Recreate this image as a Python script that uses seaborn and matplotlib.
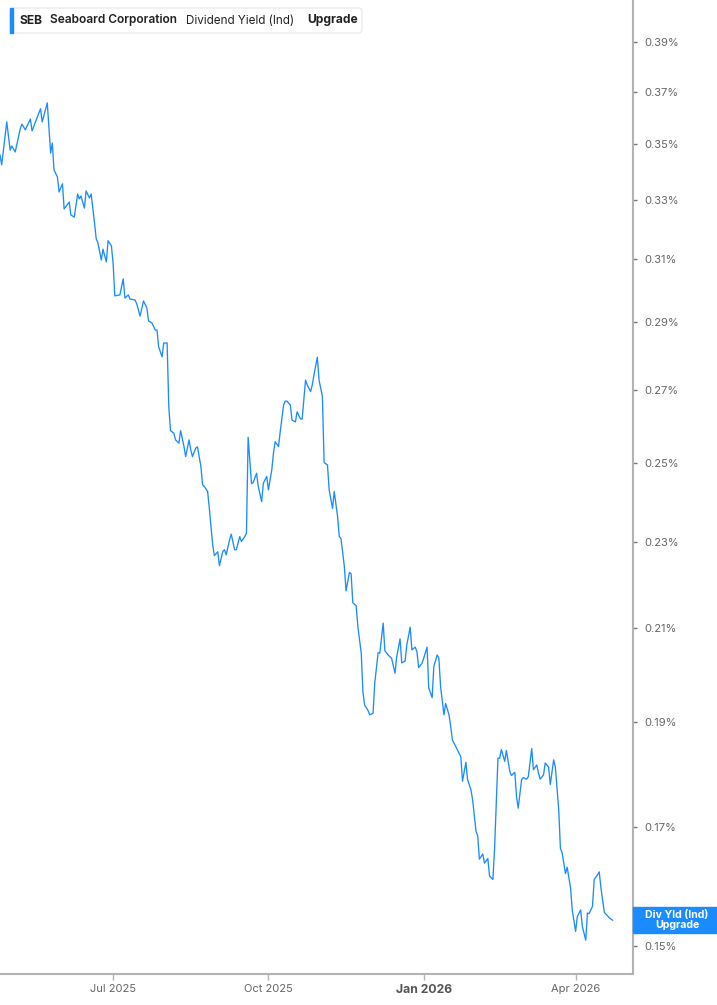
import matplotlib
matplotlib.use("Agg")
import matplotlib.pyplot as plt
from matplotlib.patches import FancyBboxPatch, Rectangle
from matplotlib.ticker import FixedLocator, FuncFormatter, NullLocator
import pandas as pd
import seaborn as sns

# Dividend yield (Ind), %
dates = [
    "2025-04-25", "2025-04-26", "2025-04-29", "2025-05-01", "2025-05-02", "2025-05-04",
    "2025-05-07", "2025-05-08", "2025-05-10", "2025-05-13", "2025-05-14", "2025-05-16",
    "2025-05-19", "2025-05-20", "2025-05-23", "2025-05-25", "2025-05-26", "2025-05-27",
    "2025-05-29", "2025-05-30", "2025-06-01", "2025-06-02", "2025-06-05", "2025-06-06",
    "2025-06-08", "2025-06-10", "2025-06-11", "2025-06-12", "2025-06-14", "2025-06-15",
    "2025-06-17", "2025-06-18", "2025-06-20", "2025-06-21", "2025-06-22", "2025-06-24",
    "2025-06-25", "2025-06-27", "2025-06-28", "2025-06-30", "2025-07-01", "2025-07-02",
    "2025-07-05", "2025-07-07", "2025-07-08", "2025-07-10", "2025-07-11", "2025-07-14",
    "2025-07-15", "2025-07-17", "2025-07-19", "2025-07-21", "2025-07-22", "2025-07-24",
    "2025-07-26", "2025-07-27", "2025-07-28", "2025-07-30", "2025-07-31", "2025-08-02",
    "2025-08-03", "2025-08-04", "2025-08-06", "2025-08-07", "2025-08-09", "2025-08-10",
    "2025-08-12", "2025-08-13", "2025-08-15", "2025-08-16", "2025-08-17", "2025-08-19",
    "2025-08-20", "2025-08-22", "2025-08-23", "2025-08-24", "2025-08-26", "2025-08-27",
    "2025-08-29", "2025-08-30", "2025-09-01", "2025-09-02", "2025-09-04", "2025-09-05",
    "2025-09-06", "2025-09-08", "2025-09-09", "2025-09-11", "2025-09-12", "2025-09-14",
    "2025-09-15", "2025-09-17", "2025-09-18", "2025-09-19", "2025-09-21", "2025-09-22",
    "2025-09-24", "2025-09-25", "2025-09-27", "2025-09-28", "2025-09-30", "2025-10-01",
    "2025-10-03", "2025-10-04", "2025-10-05", "2025-10-07", "2025-10-08", "2025-10-10",
    "2025-10-11", "2025-10-12", "2025-10-14", "2025-10-15", "2025-10-17", "2025-10-18",
    "2025-10-20", "2025-10-21", "2025-10-23", "2025-10-24", "2025-10-26", "2025-10-27",
    "2025-10-28", "2025-10-30", "2025-10-31", "2025-11-02", "2025-11-03", "2025-11-05",
    "2025-11-06", "2025-11-08", "2025-11-09", "2025-11-11", "2025-11-12", "2025-11-13",
    "2025-11-15", "2025-11-16", "2025-11-18", "2025-11-19", "2025-11-20", "2025-11-22",
    "2025-11-23", "2025-11-25", "2025-11-26", "2025-11-27", "2025-11-29", "2025-11-30",
    "2025-12-02", "2025-12-03", "2025-12-05", "2025-12-06", "2025-12-08", "2025-12-09",
    "2025-12-11", "2025-12-12", "2025-12-13", "2025-12-15", "2025-12-16", "2025-12-18",
    "2025-12-19", "2025-12-21", "2025-12-22", "2025-12-24", "2025-12-25", "2025-12-27",
    "2025-12-28", "2025-12-29", "2025-12-31", "2026-01-01", "2026-01-03", "2026-01-04",
    "2026-01-06", "2026-01-07", "2026-01-09", "2026-01-10", "2026-01-11", "2026-01-13",
    "2026-01-14", "2026-01-16", "2026-01-17", "2026-01-18", "2026-01-23", "2026-01-24",
    "2026-01-26", "2026-01-27", "2026-01-29", "2026-01-30", "2026-02-01", "2026-02-02",
    "2026-02-03", "2026-02-05", "2026-02-06", "2026-02-08", "2026-02-09", "2026-02-11",
    "2026-02-12", "2026-02-14", "2026-02-15", "2026-02-16", "2026-02-18", "2026-02-19",
    "2026-02-21", "2026-02-22", "2026-02-24", "2026-02-25", "2026-02-26", "2026-02-28",
    "2026-03-01", "2026-03-03", "2026-03-04", "2026-03-06", "2026-03-07", "2026-03-09",
    "2026-03-10", "2026-03-11", "2026-03-13", "2026-03-14", "2026-03-16", "2026-03-17",
    "2026-03-19", "2026-03-20", "2026-03-22", "2026-03-23", "2026-03-24", "2026-03-26",
    "2026-03-27", "2026-03-29", "2026-03-30", "2026-04-01", "2026-04-02", "2026-04-04",
    "2026-04-05", "2026-04-07", "2026-04-08", "2026-04-09", "2026-04-11", "2026-04-12",
    "2026-04-14", "2026-04-15", "2026-04-16", "2026-04-18", "2026-04-19", "2026-04-21",
    "2026-04-23",
]
div_yield = [
    0.3461, 0.3425, 0.3584, 0.3479, 0.3494, 0.3472,
    0.3558, 0.3576, 0.3554, 0.3595, 0.3550, 0.3584,
    0.3634, 0.3584, 0.3657, 0.3468, 0.3505, 0.3406,
    0.3382, 0.3328, 0.3357, 0.3269, 0.3293, 0.3248,
    0.3241, 0.3321, 0.3304, 0.3314, 0.3272, 0.3332,
    0.3307, 0.3321, 0.3221, 0.3167, 0.3154, 0.3097,
    0.3133, 0.3091, 0.3161, 0.3144, 0.3087, 0.2982,
    0.2985, 0.3036, 0.2975, 0.2985, 0.2972, 0.2969,
    0.2957, 0.2919, 0.2966, 0.2944, 0.2904, 0.2898,
    0.2876, 0.2876, 0.2825, 0.2796, 0.2837, 0.2837,
    0.2652, 0.2586, 0.2579, 0.2561, 0.2552, 0.2586,
    0.2543, 0.2516, 0.2561, 0.2534, 0.2516, 0.2539,
    0.2542, 0.2490, 0.2442, 0.2438, 0.2425, 0.2382,
    0.2292, 0.2266, 0.2275, 0.2242, 0.2276, 0.2280,
    0.2268, 0.2304, 0.2318, 0.2280, 0.2280, 0.2312,
    0.2300, 0.2312, 0.2320, 0.2568, 0.2445, 0.2448,
    0.2472, 0.2438, 0.2399, 0.2446, 0.2464, 0.2429,
    0.2481, 0.2525, 0.2556, 0.2543, 0.2583, 0.2657,
    0.2668, 0.2668, 0.2657, 0.2615, 0.2610, 0.2638,
    0.2618, 0.2618, 0.2728, 0.2714, 0.2695, 0.2714,
    0.2743, 0.2795, 0.2728, 0.2681, 0.2500, 0.2494,
    0.2429, 0.2382, 0.2425, 0.2361, 0.2312, 0.2308,
    0.2240, 0.2183, 0.2226, 0.2223, 0.2156, 0.2149,
    0.2102, 0.2044, 0.1962, 0.1935, 0.1924, 0.1915,
    0.1918, 0.1980, 0.2045, 0.2044, 0.2110, 0.2049,
    0.2040, 0.2036, 0.2033, 0.2001, 0.2036, 0.2075,
    0.2023, 0.2027, 0.2062, 0.2101, 0.2051, 0.2057,
    0.2047, 0.2013, 0.2022, 0.2033, 0.2057, 0.1970,
    0.1950, 0.2015, 0.2040, 0.2033, 0.1973, 0.1915,
    0.1938, 0.1915, 0.1892, 0.1865, 0.1832, 0.1785,
    0.1821, 0.1788, 0.1769, 0.1750, 0.1693, 0.1685,
    0.1644, 0.1653, 0.1637, 0.1645, 0.1615, 0.1609,
    0.1663, 0.1829, 0.1829, 0.1846, 0.1823, 0.1844,
    0.1804, 0.1796, 0.1802, 0.1756, 0.1735, 0.1788,
    0.1792, 0.1789, 0.1794, 0.1848, 0.1807, 0.1816,
    0.1801, 0.1789, 0.1797, 0.1820, 0.1812, 0.1779,
    0.1826, 0.1812, 0.1732, 0.1663, 0.1655, 0.1619,
    0.1630, 0.1595, 0.1558, 0.1523, 0.1547, 0.1558,
    0.1531, 0.1509, 0.1553, 0.1552, 0.1564, 0.1609,
    0.1617, 0.1622, 0.1595, 0.1554, 0.1551, 0.1545,
    0.1541,
]

y_ticks = [0.15, 0.17, 0.19, 0.21, 0.23, 0.25, 0.27, 0.29, 0.31, 0.33, 0.35, 0.37, 0.39]
x_tick_dates = ["2025-07-01", "2025-10-01", "2026-01-01", "2026-04-01"]
x_tick_labels = ["Jul 2025", "Oct 2025", "Jan 2026", "Apr 2026"]

LINE = "#1a8cff"
AXIS = "#b3b3b3"
TEXT = "#666666"

sns.set_theme(style="white")
plt.rcParams["font.family"] = ["Inter", "DejaVu Sans"]

df = pd.DataFrame({"date": pd.to_datetime(dates), "yield": div_yield})

W, H = 717, 1005
fig = plt.figure(figsize=(W / 100, H / 100), dpi=100)
ax = fig.add_axes([0, 31 / H, 633 / W, 974 / H])

sns.lineplot(data=df, x="date", y="yield", ax=ax, color=LINE, linewidth=0.95)

ax.set_yscale("log")
ax.set_ylim(0.1456, 0.4077)
ax.set_xlim(pd.Timestamp("2025-04-25"), pd.Timestamp("2026-05-05"))

# y axis on the right, percent labels
ax.yaxis.tick_right()
ax.yaxis.set_major_locator(FixedLocator(y_ticks))
ax.yaxis.set_minor_locator(NullLocator())
ax.yaxis.set_major_formatter(FuncFormatter(lambda v, _: f"{v:.2f}%"))
ax.tick_params(axis="y", which="major", right=True, left=False, length=3, width=1,
               color="#777777", pad=5, labelsize=8, labelcolor=TEXT)

ax.set_xticks(pd.to_datetime(x_tick_dates))
ax.set_xticklabels(x_tick_labels)
ax.tick_params(axis="x", bottom=True, length=4, width=1, color=AXIS, pad=3,
               labelsize=8, labelcolor=TEXT)
for lbl in ax.get_xticklabels():
    if lbl.get_text().startswith("Jan"):
        lbl.set_fontsize(8.8)
        lbl.set_fontweight("bold")
        lbl.set_color("#555555")

ax.set_xlabel("")
ax.set_ylabel("")
ax.grid(False)
for side in ["left", "top"]:
    ax.spines[side].set_visible(False)
for side in ["right", "bottom"]:
    ax.spines[side].set_color(AXIS)
    ax.spines[side].set_linewidth(1.5)

# header box (top-left)
fig.patches.append(FancyBboxPatch((10 / W, 1 - 33 / H), 352 / W, 25 / H,
                                  boxstyle="round,pad=0,rounding_size=0.004",
                                  transform=fig.transFigure, facecolor="white",
                                  edgecolor="#e6e6e6", linewidth=0.8))
fig.patches.append(Rectangle((10 / W, 1 - 33 / H), 3 / W, 25 / H,
                             transform=fig.transFigure, color=LINE))
ty = 1 - 20.5 / H
fig.text(20 / W, ty, "SEB", fontsize=8.7, fontweight="bold", color="#222222", va="center")
fig.text(50 / W, ty, "Seaboard Corporation", fontsize=8.6, fontweight="semibold",
         color="#222222", va="center")
fig.text(186 / W, ty, "Dividend Yield (Ind)", fontsize=8.4, color="#222222", va="center")
fig.text(307 / W, ty, "Upgrade", fontsize=8.7, fontweight="bold", color="#222222", va="center")

# last value tag on the right axis
fig.patches.append(Rectangle((633 / W, 1 - 933 / H), 84 / W, 26 / H,
                             transform=fig.transFigure, color=LINE))
fig.text(677 / W, 1 - 920 / H, "Div Yld (Ind)\nUpgrade", fontsize=7.6, fontweight="bold",
         color="white", ha="center", va="center", linespacing=1.0)

fig.savefig("out.png", dpi=100)
